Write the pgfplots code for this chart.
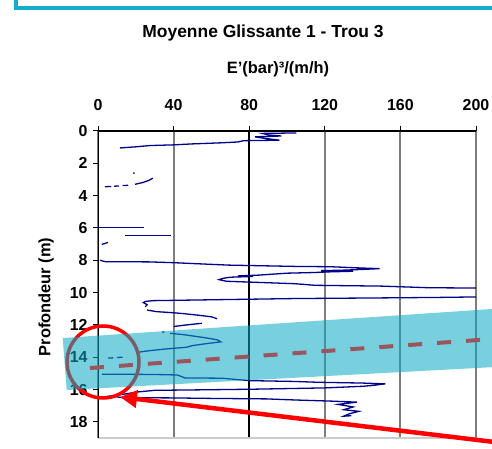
\documentclass[border=0pt]{standalone}
\usepackage{fontspec}
\setmainfont{Liberation Sans}
\usepackage{pgfplots}
\pgfplotsset{compat=1.18}
\usetikzlibrary{arrows.meta}
\definecolor{trace}{RGB}{0,0,140}
\definecolor{bandc}{RGB}{10,170,195}
\definecolor{dashc}{RGB}{155,85,95}
\definecolor{framec}{RGB}{20,172,205}
\definecolor{gridc}{RGB}{125,125,125}
\tikzset{tr/.style={trace, line width=1.3bp, mark=none, solid}}
\begin{document}
\begin{tikzpicture}[x=1bp,y=1bp]
\useasboundingbox (0,0) rectangle (492,449);
\clip (0,0) rectangle (492,449);
\begin{axis}[
  at={(98bp,318bp)}, anchor=north west,
  scale only axis, width=378bp, height=307bp,
  xmin=0, xmax=200, ymin=0, ymax=19,
  y dir=reverse,
  xtick={0,40,...,200}, ytick={0,2,...,18},
  xtick pos=right, xticklabel pos=right, ytick pos=left,
  tick align=outside, major tick length=5bp,
  axis line style={draw=none},
  xmajorgrids, grid style={gridc, line width=2bp},
  tick style={black, line width=1bp},
  /pgf/number format/assume math mode=true,
  ticklabel style={font=\bfseries\fontsize{16}{16}\selectfont},
  every x tick label/.append style={yshift=12bp},
  every y tick label/.append style={xshift=-2bp},
]
\draw[black, line width=2bp] (axis cs:80,0) -- (axis cs:80,19);
\draw[gray!40, line width=1.2bp] (axis cs:0,19) -- (axis cs:200,19);
\draw[black, line width=1.8bp] (axis cs:0,0) -- (axis cs:200,0);
\draw[black, line width=1.8bp] (axis cs:0,0) -- (axis cs:0,19);
\addplot[tr] coordinates {(105,0.12) (87,0.15) (90,0.24) (97,0.31) (83,0.36) (88,0.45) (96,0.57) (77,0.6) (74,0.68) (65.6,0.73) (49.7,0.8) (39.7,0.86) (27.5,0.9) (20,0.98) (11.6,1.05)};
\addplot[tr] coordinates {(18.6,2.6) (19.4,2.62)};
\addplot[tr] coordinates {(3.7,3.45) (7,3.43)};
\addplot[tr] coordinates {(8.5,3.42) (11,3.4)};
\addplot[tr] coordinates {(13,3.38) (16,3.36)};
\addplot[tr] coordinates {(19.6,3.3) (24,3.18) (27,3.05) (29,2.92)};
\addplot[tr] coordinates {(0,5.97) (24.5,5.97)};
\addplot[tr] coordinates {(14.3,6.45) (38.6,6.45)};
\addplot[tr] coordinates {(2,7.02) (5.3,6.9)};
\addplot[tr] coordinates {(1,8.0) (4,8.09) (26.6,8.1) (40,8.15) (49.6,8.2) (69,8.3) (104,8.38) (123,8.4) (135,8.46) (149,8.52) (137,8.58) (128,8.62) (118,8.64) (135,8.68) (122,8.72) (114,8.76) (100,8.8) (85,8.92) (74,8.97) (82,9.0) (70,9.05) (66,9.12) (64,9.2) (68,9.3) (80,9.35) (104,9.45) (115,9.55) (150,9.6) (175,9.7) (200,9.72) (215,9.8) (215,10.2) (200,10.27) (180,10.3) (150,10.33) (104,10.37) (69,10.43) (29,10.5) (25,10.55) (24,10.62) (26,10.75) (25,10.88)};
\addplot[tr] coordinates {(26,11.08) (31,11.18) (40,11.25) (45,11.3) (53,11.4) (60,11.5) (63,11.62)};
\addplot[tr] coordinates {(40,12.1) (47,12.0) (55,11.9)};
\addplot[tr] coordinates {(34,12.42) (35,12.47)};
\addplot[tr] coordinates {(38,12.52) (45,12.6) (51,12.7) (57,12.8) (63,12.92) (65,13.05) (58,13.15) (50,13.28) (47,13.38) (35,13.5) (27,13.6) (20.6,13.7)};
\addplot[tr] coordinates {(5.3,14.05) (8,14.04)};
\addplot[tr] coordinates {(10,14.02) (13,14.0)};
\addplot[tr] coordinates {(2,15.06) (20,15.06) (30,15.07) (42,15.1) (46,15.28) (65.6,15.3) (80,15.45) (104,15.5) (116,15.55) (140,15.6) (152,15.65) (145,15.75) (140,15.8) (130,15.85) (120,15.9) (82,15.98) (54,16.02) (30,16.05) (21,16.15) (13,16.3) (6.5,16.4) (13,16.5) (40,16.52) (60,16.55) (89,16.58) (105,16.65) (124,16.72) (137,16.78) (127,16.92) (135,17.08) (130,17.25) (138,17.35) (133,17.5) (130,17.65) (134,17.62)};
\end{axis}
% annotations (picture coordinates, 1bp = 1px, y up)
\draw[red, line width=3.5bp] (103,87) circle (36);
\fill[bandc, opacity=0.55] (62.7,111) -- (520,141.9) -- (520,83.3) -- (66.7,59) -- cycle;
\draw[dashc, line width=4bp, dash pattern=on 14bp off 15bp] (90,81) -- (520,112);
\draw[red, line width=4.5bp, -{Triangle[length=17bp,width=17bp]}] (520,3.9) -- (120,52);
\draw[framec, line width=4bp] (16,460) -- (16,440.5) -- (500,440.5);
\node[font=\bfseries\fontsize{17.5}{18}\selectfont] at (263,416) {Moyenne Glissante 1 - Trou 3};
\node[font=\bfseries\fontsize{16.5}{18}\selectfont] at (278,380) {E'(bar)³/(m/h)};
\node[font=\bfseries\fontsize{16.5}{18}\selectfont, rotate=90] at (46,152) {Profondeur (m)};
\end{tikzpicture}
\end{document}
